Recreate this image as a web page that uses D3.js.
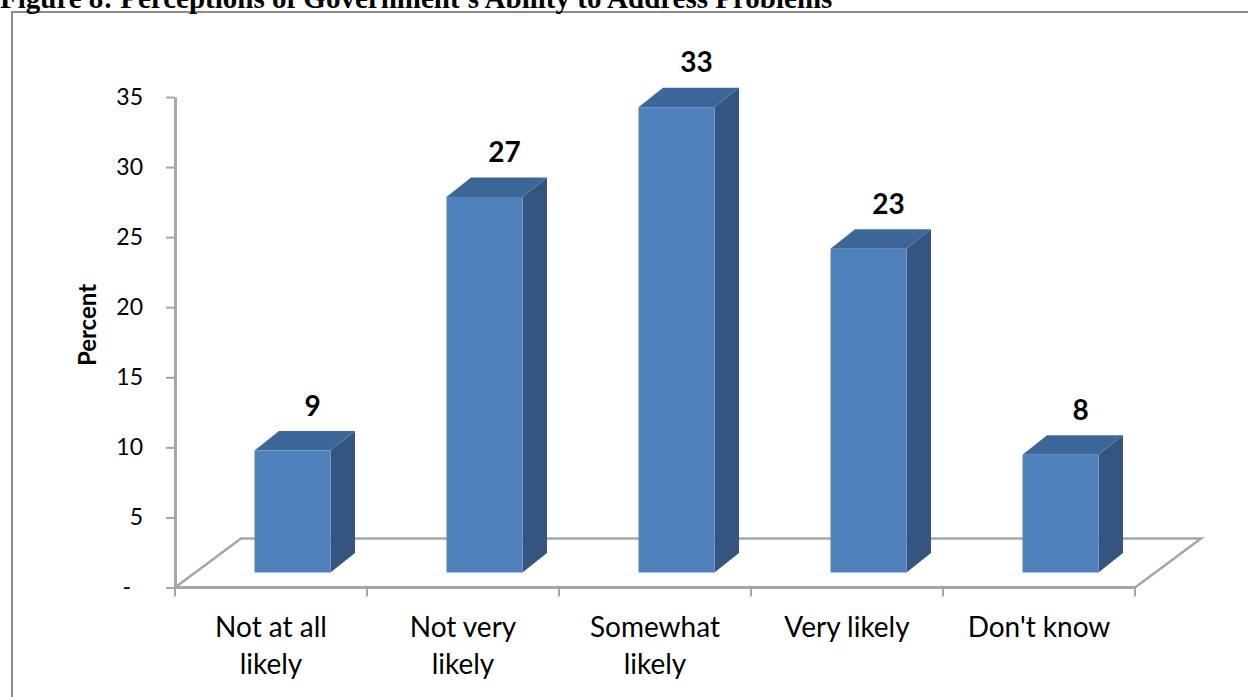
<!DOCTYPE html>
<html lang="en">
<head>
    <meta charset="UTF-8">
    <title>Perceptions of Government's Ability to Address Problems</title>
    <script src="https://d3js.org/d3.v7.min.js"></script>
    <style>
        html, body { margin: 0; padding: 0; background: #fff; overflow: hidden; }
        .chart { width: 1248px; height: 697px; }
    </style>
</head>
<body>
    <div class="chart"></div>
    <script>
        // data
        const categories = ['Not at all likely', 'Not very likely', 'Somewhat likely', 'Very likely', "Don't know"]
        const categoryLines = [['Not at all', 'likely'], ['Not very', 'likely'], ['Somewhat', 'likely'], ['Very likely'], ["Don't know"]]
        const percents = [8.7, 26.8, 33.2, 23.1, 8.4]
        const yTicks = [0, 5, 10, 15, 20, 25, 30, 35]
        const title = "Figure 8: Perceptions of Government's Ability to Address Problems"

        const width = 1248, height = 697
        const font = 'Lato, Carlito, Calibri, sans-serif'
        const gridColor = '#a6a6a6'

        // 3D offsets
        const floorDx = 66, floorDy = -49     // back edge of floor
        const barShiftX = 79.5, barShiftY = -15 // bar front face, from band start / floor
        const barW = 76
        const depthDx = 24.5, depthDy = -19.5

        const svg = d3.select('.chart')
                      .append('svg')
                      .attr('width', width)
                      .attr('height', height)

        // frame round the figure
        svg.append('rect')
           .attr('x', 12).attr('y', 12)
           .attr('width', width + 10).attr('height', height + 10)
           .attr('fill', 'none')
           .attr('stroke', '#8c8c8c')
           .attr('stroke-width', 2)

        // title, cut off by the top edge as in the source
        svg.append('text')
           .attr('x', 0).attr('y', 8)
           .style('font-family', '"Liberation Serif", "Times New Roman", serif')
           .style('font-weight', 'bold')
           .style('font-size', '29px')
           .style('fill', '#000')
           .text(title)

        const xScale = d3.scaleBand()
                         .domain(categories)
                         .range([175, 1135])
                         .padding(0)

        const yScale = d3.scaleLinear()
                         .domain([0, 35])
                         .range([587.5, 97])

        const y0 = yScale(0)
        const [xl, xr] = xScale.range()

        // floor
        const floor = svg.append('g')
                         .attr('fill', 'none')
                         .attr('stroke', gridColor)
                         .attr('stroke-width', 2.5)
        floor.append('path')
             .attr('d', `M${xl},${y0} L${xl + floorDx},${y0 + floorDy} L${xr + floorDx},${y0 + floorDy} L${xr},${y0}`)
        floor.append('line')
             .attr('x1', xl).attr('x2', xr)
             .attr('y1', y0).attr('y2', y0)
             .attr('stroke-width', 3)

        // x ticks at band edges
        const xTickPos = categories.map(d => xScale(d)).concat([xr])
        floor.selectAll('.xtick')
             .data(xTickPos)
             .join('line')
             .attr('class', 'xtick')
             .attr('x1', d => d).attr('x2', d => d)
             .attr('y1', y0).attr('y2', y0 + 9)
             .attr('stroke-width', 2)

        // bars
        const bars = svg.append('g')
                        .selectAll('g')
                        .data(percents)
                        .join('g')

        const fx = (d, i) => xScale(categories[i]) + barShiftX
        const fTop = d => yScale(d) + barShiftY
        const fBot = y0 + barShiftY

        // side face
        bars.append('path')
            .attr('fill', '#34557f')
            .attr('d', (d, i) => {
                const x = fx(d, i) + barW, t = fTop(d)
                return `M${x},${t} L${x + depthDx},${t + depthDy} L${x + depthDx},${fBot + depthDy} L${x},${fBot} Z`
            })
        // top face
        bars.append('path')
            .attr('fill', '#3e6799')
            .attr('d', (d, i) => {
                const x = fx(d, i), t = fTop(d)
                return `M${x},${t} L${x + depthDx},${t + depthDy} L${x + barW + depthDx},${t + depthDy} L${x + barW},${t} Z`
            })
        // front face
        bars.append('rect')
            .attr('fill', '#4f81bd')
            .attr('x', (d, i) => fx(d, i))
            .attr('y', d => fTop(d))
            .attr('width', barW)
            .attr('height', d => fBot - fTop(d))

        // value labels
        bars.append('text')
            .attr('x', (d, i) => fx(d, i) + barW / 2 + 20)
            .attr('y', d => fTop(d) - 35)
            .style('font-family', font)
            .style('font-weight', 'bold')
            .style('font-size', '28px')
            .style('text-anchor', 'middle')
            .style('fill', '#000')
            .text(d => d3.format('.0f')(d))

        // y axis
        const yAxis = d3.axisLeft(yScale)
                        .tickValues(yTicks)
                        .tickSize(9)
                        .tickSizeOuter(0)
                        .tickPadding(23)
                        .tickFormat(d => d === 0 ? '-' : d)

        const yAxisGroup = svg.append('g')
                              .attr('transform', `translate(${xl},0)`)
                              .call(yAxis)
        yAxisGroup.select('.domain').attr('stroke', gridColor).attr('stroke-width', 3)
        yAxisGroup.selectAll('.tick line').attr('stroke', gridColor).attr('stroke-width', 2)
        yAxisGroup.selectAll('.tick text')
                  .style('font-family', font)
                  .style('font-size', '23px')
                  .style('fill', '#000')
                  .attr('dx', d => d === 0 ? -12 : 0)

        // y axis title
        svg.append('text')
           .attr('transform', 'translate(96,325) rotate(-90)')
           .style('font-family', font)
           .style('font-weight', 'bold')
           .style('font-size', '24px')
           .style('text-anchor', 'middle')
           .style('fill', '#000')
           .text('Percent')

        // category labels
        const catText = svg.append('g')
                           .selectAll('text')
                           .data(categoryLines)
                           .join('text')
                           .attr('x', (d, i) => xScale(categories[i]) + xScale.bandwidth() / 2)
                           .attr('y', 637)
                           .style('font-family', font)
                           .style('font-size', '28px')
                           .style('text-anchor', 'middle')
                           .style('fill', '#000')
        catText.selectAll('tspan')
               .data(d => d)
               .join('tspan')
               .attr('x', function () { return d3.select(this.parentNode).attr('x') })
               .attr('dy', (d, i) => i === 0 ? 0 : 37)
               .text(d => d)
    </script>
</body>
</html>
